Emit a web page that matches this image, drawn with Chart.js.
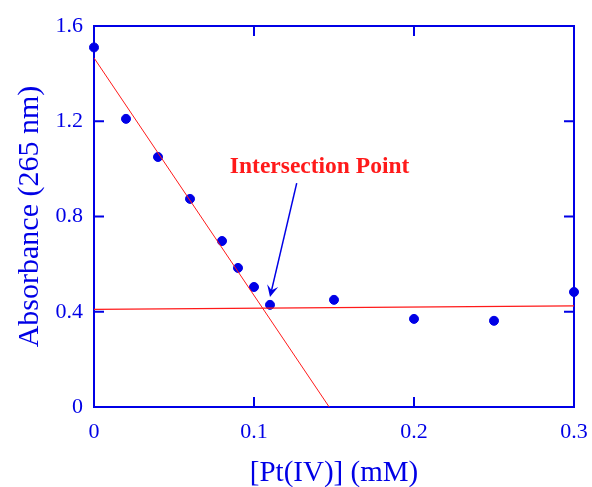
<!DOCTYPE html>
<html lang="en">
<head>
    <meta charset="UTF-8">
    <title>Absorbance vs Pt(IV)</title>
    <script src="https://cdn.jsdelivr.net/npm/chart.js"></script>
    <style>
        html, body { margin: 0; padding: 0; background: #fff; }
        #chart-container { width: 592px; height: 487px; }
    </style>
</head>
<body>
    <div id="chart-container">
        <canvas id="myChart" width="592" height="487"></canvas>
    </div>
    <script>
        // measured points
        var ptConc = [0, 0.02, 0.04, 0.06, 0.08, 0.09, 0.10, 0.11, 0.15, 0.20, 0.25, 0.30];
        var absorbance = [1.51, 1.21, 1.05, 0.874, 0.697, 0.584, 0.504, 0.429, 0.45, 0.37, 0.362, 0.483];

        // fitted lines (end points)
        var fallX = [0, 0.147];
        var fallY = [1.466, 0];
        var flatX = [0, 0.3];
        var flatY = [0.41, 0.425];

        // annotation
        var noteText = 'Intersection Point';
        var noteAt = [0.141, 1.01];
        var arrowFrom = [0.1267, 0.94];
        var arrowTo = [0.11, 0.462];

        var xTickLabels = ['0', '0.1', '0.2', '0.3'];
        var yTickLabels = ['0', '0.4', '0.8', '1.2', '1.6'];

        var blue = '#0000e6';
        var red = '#ff1a1a';
        var serif = "'Liberation Serif', 'DejaVu Serif', serif";

        function pairs(xs, ys) {
            return xs.map(function(x, i) { return { x: x, y: ys[i] }; });
        }

        var framePlugin = {
            id: 'frame',
            beforeDatasetsDraw: function(chart) {
                var c = chart.ctx, a = chart.chartArea;
                var xs = chart.scales.x, ys = chart.scales.y;
                c.save();
                c.strokeStyle = blue;
                c.lineWidth = 2;
                c.strokeRect(a.left, a.top, a.right - a.left, a.bottom - a.top);
                var len = 10;
                c.beginPath();
                xs.ticks.forEach(function(t) {
                    var px = xs.getPixelForValue(t.value);
                    c.moveTo(px, a.bottom); c.lineTo(px, a.bottom - len);
                    c.moveTo(px, a.top); c.lineTo(px, a.top + len);
                });
                ys.ticks.forEach(function(t) {
                    var py = ys.getPixelForValue(t.value);
                    c.moveTo(a.left, py); c.lineTo(a.left + len, py);
                    c.moveTo(a.right, py); c.lineTo(a.right - len, py);
                });
                c.stroke();
                c.restore();
            },
            afterDatasetsDraw: function(chart) {
                var c = chart.ctx;
                var xs = chart.scales.x, ys = chart.scales.y;
                c.save();
                // label
                c.fillStyle = red;
                c.font = 'bold 23.5px ' + serif;
                c.textAlign = 'center';
                c.textBaseline = 'middle';
                c.fillText(noteText, xs.getPixelForValue(noteAt[0]), ys.getPixelForValue(noteAt[1]));
                // arrow
                var x1 = xs.getPixelForValue(arrowFrom[0]), y1 = ys.getPixelForValue(arrowFrom[1]);
                var x2 = xs.getPixelForValue(arrowTo[0]), y2 = ys.getPixelForValue(arrowTo[1]);
                var ang = Math.atan2(y2 - y1, x2 - x1);
                c.strokeStyle = blue;
                c.fillStyle = blue;
                c.lineWidth = 1.5;
                c.beginPath();
                c.moveTo(x1, y1);
                c.lineTo(x2 - 6 * Math.cos(ang), y2 - 6 * Math.sin(ang));
                c.stroke();
                var hl = 13, hw = 0.45;
                c.beginPath();
                c.moveTo(x2, y2);
                c.lineTo(x2 - hl * Math.cos(ang - hw), y2 - hl * Math.sin(ang - hw));
                c.lineTo(x2 - 7 * Math.cos(ang), y2 - 7 * Math.sin(ang));
                c.lineTo(x2 - hl * Math.cos(ang + hw), y2 - hl * Math.sin(ang + hw));
                c.closePath();
                c.fill();
                c.restore();
            }
        };

        var ctx = document.getElementById('myChart').getContext('2d');
        var myChart = new Chart(ctx, {
            type: 'scatter',
            data: {
                datasets: [{
                    label: 'fall',
                    data: pairs(fallX, fallY),
                    showLine: true,
                    borderColor: red,
                    borderWidth: 1,
                    pointRadius: 0,
                    fill: false
                }, {
                    label: 'flat',
                    data: pairs(flatX, flatY),
                    showLine: true,
                    borderColor: red,
                    borderWidth: 1.2,
                    pointRadius: 0,
                    fill: false
                }, {
                    label: 'Absorbance',
                    data: pairs(ptConc, absorbance),
                    backgroundColor: blue,
                    borderColor: blue,
                    pointRadius: 4.5,
                    clip: false
                }]
            },
            options: {
                responsive: false,
                animation: false,
                events: [],
                layout: { padding: { left: 0, top: 26, right: 18, bottom: 0 } },
                plugins: {
                    legend: { display: false },
                    tooltip: { enabled: false }
                },
                scales: {
                    x: {
                        type: 'linear',
                        min: 0,
                        max: 0.3,
                        grid: { display: false, drawTicks: false },
                        border: { display: false },
                        afterFit: function(s) {
                            s.height = 80;
                            s.paddingLeft = 0;
                            s.paddingRight = 0;
                        },
                        ticks: {
                            stepSize: 0.1,
                            padding: 12,
                            color: blue,
                            font: { family: serif, size: 22 },
                            callback: function(v, i) { return xTickLabels[i]; }
                        },
                        title: {
                            display: true,
                            text: '[Pt(IV)] (mM)',
                            color: blue,
                            font: { family: serif, size: 29 },
                            padding: { top: 0, bottom: -4 }
                        }
                    },
                    y: {
                        type: 'linear',
                        min: 0,
                        max: 1.6,
                        grid: { display: false, drawTicks: false },
                        border: { display: false },
                        afterFit: function(s) {
                            s.width = 94;
                            s.paddingTop = 0;
                            s.paddingBottom = 0;
                        },
                        ticks: {
                            stepSize: 0.4,
                            padding: 11,
                            color: blue,
                            font: { family: serif, size: 22 },
                            callback: function(v, i) { return yTickLabels[i]; }
                        },
                        title: {
                            display: true,
                            text: 'Absorbance (265 nm)',
                            color: blue,
                            font: { family: serif, size: 30 },
                            padding: { top: 12, bottom: 0 }
                        }
                    }
                }
            },
            plugins: [framePlugin]
        });
    </script>
</body>
</html>
